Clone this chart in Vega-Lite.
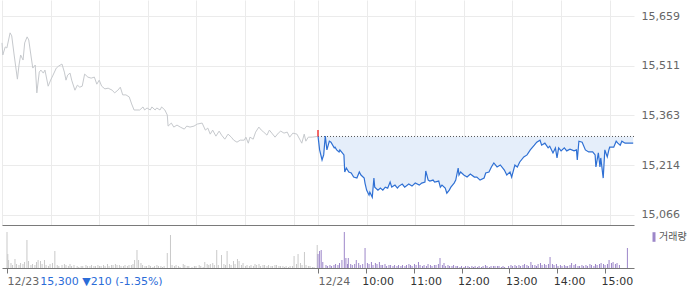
{
"$schema": "https://vega.github.io/schema/vega-lite/v6.json",
"padding": 0,
"background": "white",
"spacing": 1,
"config": {"view": {"stroke": null}, "font": "DejaVu Sans", "axis": {"labelFont": "DejaVu Sans", "labelFontSize": 11}},
"resolve": {"scale": {"color": "independent"}, "legend": {"color": "independent"}},
"datasets": {
"p23": [{"t":0,"p":15579},{"t":1,"p":15543},{"t":4,"p":15567},{"t":6,"p":15564},{"t":10,"p":15609},{"t":12,"p":15600},{"t":15,"p":15543},{"t":19,"p":15471},{"t":21,"p":15513},{"t":23,"p":15543},{"t":26,"p":15528},{"t":28,"p":15579},{"t":31,"p":15597},{"t":33,"p":15588},{"t":36,"p":15537},{"t":38,"p":15504},{"t":41,"p":15513},{"t":43,"p":15430},{"t":46,"p":15492},{"t":48,"p":15498},{"t":51,"p":15489},{"t":53,"p":15498},{"t":57,"p":15450},{"t":60,"p":15468},{"t":63,"p":15483},{"t":67,"p":15504},{"t":70,"p":15510},{"t":74,"p":15516},{"t":77,"p":15492},{"t":79,"p":15468},{"t":81,"p":15483},{"t":84,"p":15489},{"t":86,"p":15468},{"t":90,"p":15438},{"t":93,"p":15453},{"t":96,"p":15447},{"t":99,"p":15450},{"t":102,"p":15486},{"t":106,"p":15477},{"t":110,"p":15474},{"t":114,"p":15477},{"t":117,"p":15456},{"t":120,"p":15468},{"t":123,"p":15450},{"t":127,"p":15442},{"t":131,"p":15444},{"t":136,"p":15438},{"t":139,"p":15430},{"t":143,"p":15438},{"t":146,"p":15447},{"t":149,"p":15424},{"t":153,"p":15424},{"t":157,"p":15418},{"t":160,"p":15397},{"t":163,"p":15379},{"t":170,"p":15379},{"t":174,"p":15388},{"t":176,"p":15379},{"t":179,"p":15385},{"t":183,"p":15379},{"t":185,"p":15388},{"t":189,"p":15379},{"t":191,"p":15385},{"t":195,"p":15379},{"t":197,"p":15388},{"t":201,"p":15379},{"t":204,"p":15364},{"t":205,"p":15331},{"t":209,"p":15340},{"t":212,"p":15328},{"t":216,"p":15334},{"t":220,"p":15328},{"t":225,"p":15322},{"t":228,"p":15331},{"t":232,"p":15328},{"t":237,"p":15331},{"t":241,"p":15337},{"t":247,"p":15340},{"t":251,"p":15319},{"t":254,"p":15325},{"t":257,"p":15307},{"t":260,"p":15319},{"t":264,"p":15301},{"t":268,"p":15316},{"t":271,"p":15304},{"t":275,"p":15292},{"t":279,"p":15307},{"t":283,"p":15298},{"t":286,"p":15289},{"t":290,"p":15283},{"t":294,"p":15289},{"t":299,"p":15289},{"t":301,"p":15298},{"t":304,"p":15280},{"t":306,"p":15298},{"t":310,"p":15292},{"t":313,"p":15313},{"t":317,"p":15328},{"t":320,"p":15319},{"t":323,"p":15313},{"t":327,"p":15304},{"t":330,"p":15319},{"t":333,"p":15310},{"t":337,"p":15298},{"t":341,"p":15310},{"t":344,"p":15316},{"t":348,"p":15310},{"t":352,"p":15313},{"t":355,"p":15298},{"t":359,"p":15310},{"t":364,"p":15307},{"t":368,"p":15289},{"t":370,"p":15280},{"t":373,"p":15307},{"t":375,"p":15286},{"t":378,"p":15298},{"t":383,"p":15298},{"t":389,"p":15300}],
"p24": [{"t":390,"p":15301},{"t":392,"p":15260},{"t":395,"p":15230},{"t":397,"p":15245},{"t":399,"p":15301},{"t":401,"p":15260},{"t":404,"p":15286},{"t":406,"p":15283},{"t":410,"p":15266},{"t":411,"p":15268},{"t":413,"p":15260},{"t":416,"p":15254},{"t":417,"p":15260},{"t":420,"p":15251},{"t":422,"p":15245},{"t":423,"p":15194},{"t":425,"p":15206},{"t":428,"p":15194},{"t":431,"p":15191},{"t":434,"p":15179},{"t":438,"p":15176},{"t":441,"p":15194},{"t":443,"p":15185},{"t":447,"p":15176},{"t":448,"p":15161},{"t":450,"p":15140},{"t":453,"p":15125},{"t":454,"p":15134},{"t":457,"p":15119},{"t":459,"p":15176},{"t":460,"p":15149},{"t":464,"p":15140},{"t":467,"p":15146},{"t":470,"p":15140},{"t":473,"p":15149},{"t":476,"p":15146},{"t":479,"p":15164},{"t":481,"p":15149},{"t":485,"p":15155},{"t":488,"p":15146},{"t":490,"p":15152},{"t":494,"p":15158},{"t":497,"p":15149},{"t":502,"p":15158},{"t":506,"p":15152},{"t":510,"p":15161},{"t":515,"p":15155},{"t":518,"p":15161},{"t":522,"p":15164},{"t":523,"p":15197},{"t":526,"p":15170},{"t":528,"p":15167},{"t":532,"p":15170},{"t":534,"p":15164},{"t":539,"p":15167},{"t":541,"p":15149},{"t":543,"p":15155},{"t":547,"p":15146},{"t":549,"p":15131},{"t":552,"p":15140},{"t":554,"p":15149},{"t":558,"p":15161},{"t":560,"p":15170},{"t":563,"p":15206},{"t":564,"p":15185},{"t":566,"p":15194},{"t":570,"p":15185},{"t":574,"p":15179},{"t":578,"p":15188},{"t":583,"p":15179},{"t":586,"p":15179},{"t":590,"p":15170},{"t":595,"p":15176},{"t":597,"p":15191},{"t":601,"p":15194},{"t":604,"p":15209},{"t":607,"p":15221},{"t":611,"p":15209},{"t":615,"p":15215},{"t":620,"p":15200},{"t":623,"p":15185},{"t":627,"p":15194},{"t":629,"p":15179},{"t":633,"p":15215},{"t":636,"p":15209},{"t":639,"p":15224},{"t":644,"p":15239},{"t":648,"p":15245},{"t":652,"p":15260},{"t":657,"p":15274},{"t":660,"p":15283},{"t":664,"p":15289},{"t":666,"p":15274},{"t":670,"p":15280},{"t":674,"p":15266},{"t":676,"p":15271},{"t":680,"p":15251},{"t":683,"p":15266},{"t":685,"p":15236},{"t":687,"p":15266},{"t":690,"p":15257},{"t":694,"p":15266},{"t":697,"p":15257},{"t":701,"p":15262},{"t":706,"p":15257},{"t":709,"p":15260},{"t":710,"p":15230},{"t":712,"p":15286},{"t":716,"p":15283},{"t":720,"p":15260},{"t":724,"p":15254},{"t":729,"p":15254},{"t":732,"p":15245},{"t":733,"p":15209},{"t":736,"p":15251},{"t":738,"p":15209},{"t":739,"p":15236},{"t":742,"p":15176},{"t":744,"p":15260},{"t":747,"p":15239},{"t":749,"p":15260},{"t":750,"p":15268},{"t":755,"p":15268},{"t":758,"p":15286},{"t":760,"p":15280},{"t":763,"p":15274},{"t":765,"p":15286},{"t":769,"p":15280},{"t":779,"p":15280}],
"ref": [{"t1":390,"t2":780,"p":15300}],
"open": [{"t":390,"o":15319,"c":15300}],
"vol": [{"t":0,"v":36,"d":"12/23"},{"t":1,"v":14,"d":"12/23"},{"t":2,"v":8,"d":"12/23"},{"t":5,"v":5,"d":"12/23"},{"t":7,"v":3,"d":"12/23"},{"t":10,"v":9,"d":"12/23"},{"t":12,"v":4,"d":"12/23"},{"t":15,"v":3,"d":"12/23"},{"t":17,"v":5,"d":"12/23"},{"t":20,"v":4,"d":"12/23"},{"t":22,"v":6,"d":"12/23"},{"t":25,"v":28,"d":"12/23"},{"t":27,"v":7,"d":"12/23"},{"t":30,"v":3,"d":"12/23"},{"t":32,"v":4,"d":"12/23"},{"t":35,"v":3,"d":"12/23"},{"t":37,"v":6,"d":"12/23"},{"t":39,"v":8,"d":"12/23"},{"t":42,"v":7,"d":"12/23"},{"t":44,"v":4,"d":"12/23"},{"t":47,"v":8,"d":"12/23"},{"t":49,"v":3,"d":"12/23"},{"t":52,"v":2,"d":"12/23"},{"t":54,"v":4,"d":"12/23"},{"t":57,"v":5,"d":"12/23"},{"t":60,"v":17,"d":"12/23"},{"t":63,"v":3,"d":"12/23"},{"t":65,"v":2,"d":"12/23"},{"t":69,"v":3,"d":"12/23"},{"t":72,"v":4,"d":"12/23"},{"t":74,"v":3,"d":"12/23"},{"t":77,"v":2,"d":"12/23"},{"t":79,"v":4,"d":"12/23"},{"t":81,"v":2,"d":"12/23"},{"t":84,"v":3,"d":"12/23"},{"t":88,"v":2,"d":"12/23"},{"t":90,"v":1,"d":"12/23"},{"t":93,"v":2,"d":"12/23"},{"t":95,"v":2,"d":"12/23"},{"t":99,"v":3,"d":"12/23"},{"t":101,"v":2,"d":"12/23"},{"t":104,"v":2,"d":"12/23"},{"t":106,"v":3,"d":"12/23"},{"t":109,"v":2,"d":"12/23"},{"t":111,"v":2,"d":"12/23"},{"t":114,"v":3,"d":"12/23"},{"t":116,"v":2,"d":"12/23"},{"t":118,"v":2,"d":"12/23"},{"t":121,"v":3,"d":"12/23"},{"t":123,"v":2,"d":"12/23"},{"t":126,"v":4,"d":"12/23"},{"t":128,"v":2,"d":"12/23"},{"t":131,"v":3,"d":"12/23"},{"t":133,"v":3,"d":"12/23"},{"t":136,"v":4,"d":"12/23"},{"t":138,"v":3,"d":"12/23"},{"t":141,"v":3,"d":"12/23"},{"t":143,"v":2,"d":"12/23"},{"t":146,"v":2,"d":"12/23"},{"t":148,"v":3,"d":"12/23"},{"t":151,"v":2,"d":"12/23"},{"t":153,"v":3,"d":"12/23"},{"t":156,"v":3,"d":"12/23"},{"t":158,"v":4,"d":"12/23"},{"t":160,"v":8,"d":"12/23"},{"t":163,"v":18,"d":"12/23"},{"t":165,"v":8,"d":"12/23"},{"t":168,"v":5,"d":"12/23"},{"t":170,"v":3,"d":"12/23"},{"t":173,"v":2,"d":"12/23"},{"t":175,"v":2,"d":"12/23"},{"t":178,"v":3,"d":"12/23"},{"t":180,"v":2,"d":"12/23"},{"t":183,"v":1,"d":"12/23"},{"t":185,"v":2,"d":"12/23"},{"t":188,"v":3,"d":"12/23"},{"t":190,"v":2,"d":"12/23"},{"t":193,"v":2,"d":"12/23"},{"t":195,"v":1,"d":"12/23"},{"t":197,"v":2,"d":"12/23"},{"t":201,"v":15,"d":"12/23"},{"t":205,"v":33,"d":"12/23"},{"t":207,"v":3,"d":"12/23"},{"t":210,"v":2,"d":"12/23"},{"t":212,"v":3,"d":"12/23"},{"t":215,"v":2,"d":"12/23"},{"t":217,"v":1,"d":"12/23"},{"t":221,"v":4,"d":"12/23"},{"t":223,"v":3,"d":"12/23"},{"t":226,"v":2,"d":"12/23"},{"t":228,"v":2,"d":"12/23"},{"t":232,"v":1,"d":"12/23"},{"t":235,"v":2,"d":"12/23"},{"t":237,"v":2,"d":"12/23"},{"t":241,"v":3,"d":"12/23"},{"t":243,"v":2,"d":"12/23"},{"t":246,"v":1,"d":"12/23"},{"t":248,"v":6,"d":"12/23"},{"t":251,"v":4,"d":"12/23"},{"t":253,"v":3,"d":"12/23"},{"t":255,"v":4,"d":"12/23"},{"t":258,"v":5,"d":"12/23"},{"t":260,"v":3,"d":"12/23"},{"t":263,"v":18,"d":"12/23"},{"t":265,"v":3,"d":"12/23"},{"t":269,"v":13,"d":"12/23"},{"t":272,"v":4,"d":"12/23"},{"t":274,"v":3,"d":"12/23"},{"t":276,"v":17,"d":"12/23"},{"t":279,"v":4,"d":"12/23"},{"t":281,"v":3,"d":"12/23"},{"t":284,"v":7,"d":"12/23"},{"t":286,"v":4,"d":"12/23"},{"t":289,"v":9,"d":"12/23"},{"t":291,"v":7,"d":"12/23"},{"t":294,"v":3,"d":"12/23"},{"t":296,"v":5,"d":"12/23"},{"t":299,"v":2,"d":"12/23"},{"t":301,"v":3,"d":"12/23"},{"t":304,"v":2,"d":"12/23"},{"t":306,"v":3,"d":"12/23"},{"t":309,"v":2,"d":"12/23"},{"t":311,"v":4,"d":"12/23"},{"t":313,"v":3,"d":"12/23"},{"t":316,"v":4,"d":"12/23"},{"t":318,"v":2,"d":"12/23"},{"t":321,"v":3,"d":"12/23"},{"t":323,"v":3,"d":"12/23"},{"t":326,"v":2,"d":"12/23"},{"t":328,"v":3,"d":"12/23"},{"t":331,"v":2,"d":"12/23"},{"t":333,"v":2,"d":"12/23"},{"t":336,"v":3,"d":"12/23"},{"t":338,"v":3,"d":"12/23"},{"t":341,"v":2,"d":"12/23"},{"t":343,"v":2,"d":"12/23"},{"t":346,"v":2,"d":"12/23"},{"t":348,"v":1,"d":"12/23"},{"t":350,"v":2,"d":"12/23"},{"t":353,"v":1,"d":"12/23"},{"t":355,"v":2,"d":"12/23"},{"t":358,"v":2,"d":"12/23"},{"t":360,"v":12,"d":"12/23"},{"t":363,"v":4,"d":"12/23"},{"t":365,"v":14,"d":"12/23"},{"t":368,"v":5,"d":"12/23"},{"t":370,"v":3,"d":"12/23"},{"t":373,"v":16,"d":"12/23"},{"t":375,"v":3,"d":"12/23"},{"t":378,"v":2,"d":"12/23"},{"t":380,"v":2,"d":"12/23"},{"t":383,"v":1,"d":"12/23"},{"t":385,"v":1,"d":"12/23"},{"t":389,"v":23,"d":"12/23"},
{"t":390,"v":14,"d":"12/24"},{"t":392,"v":17,"d":"12/24"},{"t":394,"v":18,"d":"12/24"},{"t":396,"v":6,"d":"12/24"},{"t":400,"v":3,"d":"12/24"},{"t":402,"v":2,"d":"12/24"},{"t":405,"v":3,"d":"12/24"},{"t":407,"v":2,"d":"12/24"},{"t":410,"v":3,"d":"12/24"},{"t":412,"v":4,"d":"12/24"},{"t":415,"v":3,"d":"12/24"},{"t":417,"v":5,"d":"12/24"},{"t":420,"v":8,"d":"12/24"},{"t":423,"v":36,"d":"12/24"},{"t":425,"v":10,"d":"12/24"},{"t":427,"v":4,"d":"12/24"},{"t":428,"v":10,"d":"12/24"},{"t":431,"v":4,"d":"12/24"},{"t":433,"v":3,"d":"12/24"},{"t":436,"v":4,"d":"12/24"},{"t":438,"v":8,"d":"12/24"},{"t":441,"v":5,"d":"12/24"},{"t":443,"v":3,"d":"12/24"},{"t":446,"v":4,"d":"12/24"},{"t":449,"v":20,"d":"12/24"},{"t":452,"v":5,"d":"12/24"},{"t":454,"v":4,"d":"12/24"},{"t":457,"v":6,"d":"12/24"},{"t":459,"v":3,"d":"12/24"},{"t":462,"v":5,"d":"12/24"},{"t":464,"v":4,"d":"12/24"},{"t":467,"v":6,"d":"12/24"},{"t":469,"v":3,"d":"12/24"},{"t":471,"v":3,"d":"12/24"},{"t":474,"v":4,"d":"12/24"},{"t":476,"v":2,"d":"12/24"},{"t":479,"v":3,"d":"12/24"},{"t":481,"v":3,"d":"12/24"},{"t":484,"v":2,"d":"12/24"},{"t":486,"v":3,"d":"12/24"},{"t":489,"v":2,"d":"12/24"},{"t":491,"v":3,"d":"12/24"},{"t":494,"v":2,"d":"12/24"},{"t":496,"v":3,"d":"12/24"},{"t":499,"v":2,"d":"12/24"},{"t":501,"v":3,"d":"12/24"},{"t":504,"v":4,"d":"12/24"},{"t":506,"v":3,"d":"12/24"},{"t":508,"v":2,"d":"12/24"},{"t":511,"v":4,"d":"12/24"},{"t":513,"v":3,"d":"12/24"},{"t":516,"v":6,"d":"12/24"},{"t":518,"v":3,"d":"12/24"},{"t":521,"v":2,"d":"12/24"},{"t":523,"v":3,"d":"12/24"},{"t":526,"v":2,"d":"12/24"},{"t":528,"v":4,"d":"12/24"},{"t":531,"v":3,"d":"12/24"},{"t":533,"v":2,"d":"12/24"},{"t":536,"v":3,"d":"12/24"},{"t":538,"v":3,"d":"12/24"},{"t":541,"v":4,"d":"12/24"},{"t":543,"v":10,"d":"12/24"},{"t":546,"v":3,"d":"12/24"},{"t":548,"v":5,"d":"12/24"},{"t":550,"v":2,"d":"12/24"},{"t":553,"v":3,"d":"12/24"},{"t":555,"v":2,"d":"12/24"},{"t":558,"v":2,"d":"12/24"},{"t":560,"v":3,"d":"12/24"},{"t":563,"v":2,"d":"12/24"},{"t":565,"v":2,"d":"12/24"},{"t":568,"v":1,"d":"12/24"},{"t":570,"v":2,"d":"12/24"},{"t":573,"v":1,"d":"12/24"},{"t":575,"v":2,"d":"12/24"},{"t":578,"v":2,"d":"12/24"},{"t":580,"v":1,"d":"12/24"},{"t":583,"v":2,"d":"12/24"},{"t":585,"v":1,"d":"12/24"},{"t":587,"v":2,"d":"12/24"},{"t":590,"v":1,"d":"12/24"},{"t":592,"v":2,"d":"12/24"},{"t":595,"v":1,"d":"12/24"},{"t":597,"v":2,"d":"12/24"},{"t":600,"v":3,"d":"12/24"},{"t":602,"v":2,"d":"12/24"},{"t":605,"v":1,"d":"12/24"},{"t":607,"v":2,"d":"12/24"},{"t":610,"v":2,"d":"12/24"},{"t":612,"v":2,"d":"12/24"},{"t":615,"v":2,"d":"12/24"},{"t":617,"v":2,"d":"12/24"},{"t":620,"v":1,"d":"12/24"},{"t":622,"v":2,"d":"12/24"},{"t":624,"v":1,"d":"12/24"},{"t":629,"v":2,"d":"12/24"},{"t":632,"v":3,"d":"12/24"},{"t":634,"v":2,"d":"12/24"},{"t":637,"v":3,"d":"12/24"},{"t":639,"v":2,"d":"12/24"},{"t":642,"v":3,"d":"12/24"},{"t":644,"v":2,"d":"12/24"},{"t":647,"v":3,"d":"12/24"},{"t":649,"v":4,"d":"12/24"},{"t":652,"v":3,"d":"12/24"},{"t":654,"v":2,"d":"12/24"},{"t":657,"v":6,"d":"12/24"},{"t":659,"v":3,"d":"12/24"},{"t":662,"v":3,"d":"12/24"},{"t":664,"v":2,"d":"12/24"},{"t":666,"v":4,"d":"12/24"},{"t":669,"v":5,"d":"12/24"},{"t":671,"v":3,"d":"12/24"},{"t":674,"v":4,"d":"12/24"},{"t":676,"v":3,"d":"12/24"},{"t":679,"v":4,"d":"12/24"},{"t":681,"v":11,"d":"12/24"},{"t":684,"v":4,"d":"12/24"},{"t":686,"v":3,"d":"12/24"},{"t":689,"v":4,"d":"12/24"},{"t":691,"v":2,"d":"12/24"},{"t":694,"v":3,"d":"12/24"},{"t":696,"v":2,"d":"12/24"},{"t":699,"v":3,"d":"12/24"},{"t":701,"v":2,"d":"12/24"},{"t":703,"v":2,"d":"12/24"},{"t":706,"v":3,"d":"12/24"},{"t":708,"v":5,"d":"12/24"},{"t":711,"v":3,"d":"12/24"},{"t":713,"v":4,"d":"12/24"},{"t":716,"v":2,"d":"12/24"},{"t":718,"v":2,"d":"12/24"},{"t":721,"v":3,"d":"12/24"},{"t":723,"v":2,"d":"12/24"},{"t":726,"v":3,"d":"12/24"},{"t":728,"v":2,"d":"12/24"},{"t":731,"v":4,"d":"12/24"},{"t":733,"v":3,"d":"12/24"},{"t":736,"v":2,"d":"12/24"},{"t":738,"v":4,"d":"12/24"},{"t":740,"v":3,"d":"12/24"},{"t":743,"v":4,"d":"12/24"},{"t":745,"v":5,"d":"12/24"},{"t":748,"v":4,"d":"12/24"},{"t":750,"v":3,"d":"12/24"},{"t":753,"v":4,"d":"12/24"},{"t":755,"v":8,"d":"12/24"},{"t":758,"v":5,"d":"12/24"},{"t":760,"v":6,"d":"12/24"},{"t":763,"v":4,"d":"12/24"},{"t":765,"v":5,"d":"12/24"},{"t":768,"v":3,"d":"12/24"},{"t":778,"v":20,"d":"12/24"}]
},
"vconcat": [
{
"width": 632, "height": 225,
"layer": [
{"data": {"name": "p24"}, "mark": {"type": "area", "color": "#e5eefa", "opacity": 1},
 "encoding": {
  "x": {"field": "t", "type": "quantitative", "scale": {"domain": [0, 780], "nice": false, "zero": false},
        "axis": {"values": [0,60,120,180,240,300,360,390,450,510,570,630,690,750], "grid": true, "gridColor": "#ebebeb", "labels": false, "ticks": false, "domain": true, "domainColor": "#7a7a7a", "title": null}},
  "y": {"field": "p", "type": "quantitative", "scale": {"domain": [15036, 15707], "nice": false, "zero": false},
        "axis": {"orient": "right", "values": [15066,15214,15363,15511,15659], "format": ",.0f", "grid": true, "gridColor": "#ebebeb", "domain": false, "ticks": false, "labelPadding": 7, "labelColor": "#666666", "title": null}},
  "y2": {"datum": 15300}}},
{"data": {"name": "ref"}, "mark": {"type": "rule", "color": "#555555", "strokeDash": [1, 2], "strokeWidth": 1},
 "encoding": {"x": {"field": "t1", "type": "quantitative"}, "x2": {"field": "t2"}, "y": {"field": "p", "type": "quantitative"}}},
{"data": {"name": "p23"}, "mark": {"type": "line", "color": "#c6c9cd", "strokeWidth": 1},
 "encoding": {"x": {"field": "t", "type": "quantitative"}, "y": {"field": "p", "type": "quantitative"}}},
{"data": {"name": "p24"}, "mark": {"type": "line", "color": "#2f70d4", "strokeWidth": 1.2},
 "encoding": {"x": {"field": "t", "type": "quantitative"}, "y": {"field": "p", "type": "quantitative"}}},
{"data": {"name": "open"}, "mark": {"type": "rule", "color": "#f03a3a", "strokeWidth": 1.5},
 "encoding": {"x": {"field": "t", "type": "quantitative"}, "y": {"field": "o", "type": "quantitative"}, "y2": {"field": "c"}}}
]
},
{
"width": 632, "height": 42,
"data": {"name": "vol"},
"mark": {"type": "bar", "size": 1},
"encoding": {
 "x": {"field": "t", "type": "quantitative", "scale": {"domain": [0, 780], "nice": false, "zero": false},
       "axis": {"values": [0,41,390,450,510,570,630,690,750],
                "labelExpr": "datum.value == 0 ? '12/23' : datum.value == 41 ? '15,300 ▼210 (-1.35%)' : datum.value == 390 ? '12/24' : (floor((datum.value - 390) / 60) + 9) + ':00'",
                "labelAlign": "left", "labelOverlap": false, "labelBound": false, "labelFlush": false,
                "labelOffset": {"condition": {"test": "datum.value >= 450", "value": -4}, "value": 0},
                "labelColor": {"condition": [{"test": "datum.value == 41", "value": "#2b6cd8"}, {"test": "datum.value <= 390", "value": "#666666"}], "value": "#333333"},
                "tickColor": {"condition": {"test": "datum.value == 41", "value": "transparent"}, "value": "#777777"},
                "tickSize": 5, "labelPadding": 2, "domainColor": "#777777", "grid": false, "title": null}},
 "y": {"field": "v", "type": "quantitative", "scale": {"domain": [0, 42], "nice": false}, "axis": null},
 "color": {"field": "d", "type": "nominal", "scale": {"domain": ["12/23", "12/24"], "range": ["#c9c9c9", "#9d87c9"]},
           "legend": {"values": ["12/24"], "labelExpr": "'거래량'", "title": null, "orient": "right", "offset": 9, "padding": 6,
                      "symbolType": "M-0.5,-1.6H0.5V1.6H-0.5Z", "symbolSize": 36, "symbolStrokeWidth": 0,
                      "labelFont": "Noto Sans CJK KR", "labelFontSize": 10, "labelColor": "#555555", "labelOffset": 0}}
}
}
]
}
